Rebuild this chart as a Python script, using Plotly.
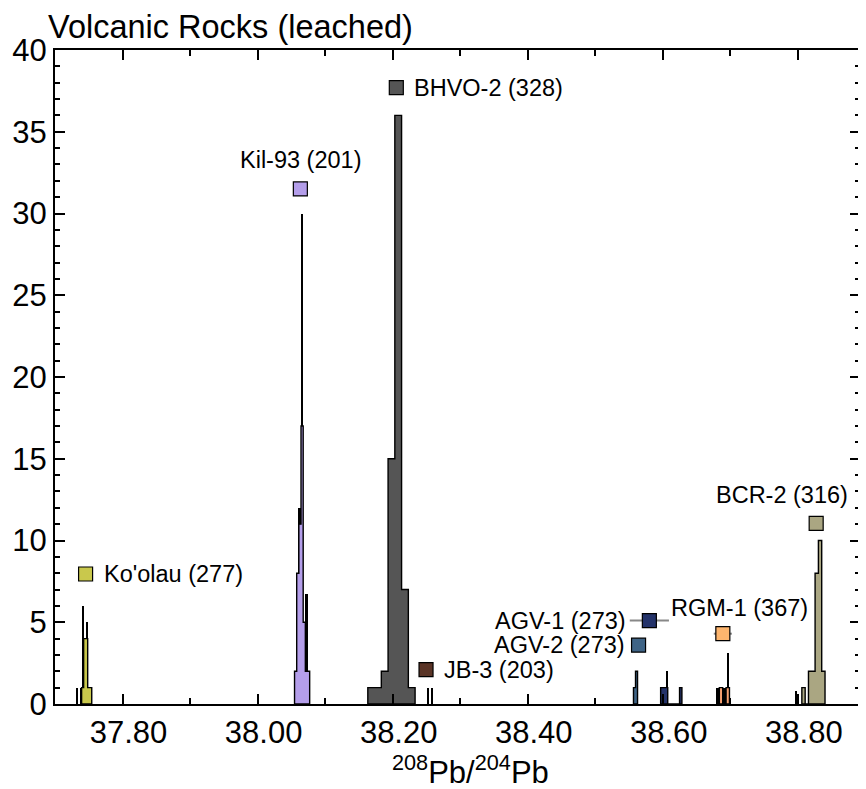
import numpy as np
import plotly.graph_objects as go

# ---------------- data ----------------
samples = ["Ko'olau", "Kil-93", "BHVO-2", "JB-3", "AGV-2", "AGV-1", "RGM-1", "BCR-2"]
n_values = [277, 201, 328, 203, 273, 273, 367, 316]
colors = ["#c9c84c", "#b49eea", "#555555", "#5a3426", "#3f6486", "#24336a", "#f6a070", "#aaa682"]
marker_colors = ["#c9c84c", "#b49eea", "#555555", "#5a3426", "#3f6486", "#24336a", "#fdb56e", "#aaa682"]

# histogram bins (leached)
bin_start = [37.7394, 38.0547, 38.1632, None, 38.5566, 38.5968, 38.6837, 38.8059]
bin_width = [0.003, 0.0032, 0.01, None, 0.003, 0.0035, 0.005, 0.0049]
counts_koolau = [1, 4, 4, 1, 1]
counts_kil93 = [2, 8, 11, 17, 5, 2, 2]
counts_bhvo2 = [1, 1, 2, 15, 36, 7, 1]
counts_jb3 = []
counts_agv2 = [1, 2]
counts_agv1 = [1, 1, 1, 0, 0, 0, 0, 0, 1]
counts_rgm1 = [1, 0, 1]
counts_bcr2 = [1, 0, 2, 2, 8, 10, 2]
counts = [counts_koolau, counts_kil93, counts_bhvo2, counts_jb3,
          counts_agv2, counts_agv1, counts_rgm1, counts_bcr2]

# mean values (markers) and 2SD
mean_x = [37.7453, 38.0633, 38.2054, 38.2494, 38.5641, 38.5801, 38.6889, 38.8271]
mean_y = [7.95, 31.5, 37.7, 2.1, 3.6, 5.1, 4.3, 11.05]
err_x = [0, 0, 0, 0, 0, 0.029, 0.0134, 0]

# black bars (other measurements)
black_x = [37.7331, 37.7382, 37.7421, 37.7472, 38.0616, 38.0658, 38.0723,
           38.2523, 38.2582, 38.6061, 38.6813, 38.6906, 38.6964, 38.798]
black_h = [1, 1, 6, 5, 12, 30, 6.7, 1, 1, 2, 1, 1, 3.1, 0.8]
black_w = [0.002, 0.002, 0.0025, 0.002, 0.0045, 0.003, 0.004,
           0.0025, 0.0025, 0.003, 0.0048, 0.0058, 0.002, 0.002]

x_ticks = [37.80, 38.00, 38.20, 38.40, 38.60, 38.80]
y_ticks = [0, 5, 10, 15, 20, 25, 30, 35, 40]

# label placement (pixel offsets from marker): (xanchor, xshift, yshift)
label_pos = [("left", 16, 0), ("center", 0, 29), ("left", 16, 0), ("left", 16, 0),
             ("right", -12, 0), ("right", -21, 0), ("left", -54, 26), ("center", -34, 28)]

FONT = "Liberation Sans, Arial, Helvetica, sans-serif"

fig = go.Figure()

# black bars behind
fig.add_trace(go.Bar(x=black_x, y=black_h, width=black_w,
                     marker=dict(color="black", line=dict(width=0)),
                     showlegend=False, hoverinfo="skip"))

# coloured step histograms
for i, c in enumerate(counts):
    if not c:
        continue
    edges = bin_start[i] + bin_width[i] * np.arange(len(c) + 1)
    xs = [edges[0]]
    ys = [0]
    for k, h in enumerate(c):
        xs += [edges[k], edges[k + 1]]
        ys += [h, h]
    xs += [edges[-1], edges[0]]
    ys += [0, 0]
    fig.add_trace(go.Scatter(x=xs, y=ys, mode="lines", fill="toself",
                             fillcolor=colors[i], line=dict(color="black", width=1.4),
                             showlegend=False, hoverinfo="skip"))

# markers
for i in range(len(samples)):
    ex = None
    if err_x[i] > 0:
        ex = dict(type="data", array=[err_x[i]], color="#888888", thickness=2, width=0)
    fig.add_trace(go.Scatter(x=[mean_x[i]], y=[mean_y[i]], mode="markers",
                             marker=dict(symbol="square", size=14, color=marker_colors[i],
                                         line=dict(color="black", width=1.2)),
                             error_x=ex, showlegend=False, hoverinfo="skip"))
    xa, xs_, ys_ = label_pos[i]
    fig.add_annotation(x=mean_x[i], y=mean_y[i], xref="x", yref="y",
                       text=f"{samples[i]} ({n_values[i]})", showarrow=False,
                       xanchor=xa, yanchor="middle", xshift=xs_, yshift=ys_,
                       font=dict(family=FONT, size=23.5, color="black"))

# axis title
fig.add_annotation(x=0.5166, y=-0.101, xref="paper", yref="paper",
                   text="<sup>208</sup>Pb/<sup>204</sup>Pb", showarrow=False,
                   xanchor="center", yanchor="middle",
                   font=dict(family=FONT, size=31, color="black"))

# page body has an 8px margin: size the figure so the plot lands where the reference has it
fig.update_layout(
    width=858, height=781,
    margin=dict(l=41, r=4, t=42, b=85),
    paper_bgcolor="white", plot_bgcolor="white",
    bargap=0, barmode="overlay",
    font=dict(family=FONT, color="black"),
    title=dict(text="Volcanic Rocks (leached)", x=40 / 858, xref="container", xanchor="left",
               y=1 - 19 / 781, yanchor="middle",
               font=dict(family=FONT, size=32.5, color="black")),
)
fig.update_xaxes(range=[37.70, 38.892], tickmode="array", tickvals=x_ticks,
                 ticktext=[f"{v:.2f}" for v in x_ticks],
                 ticks="inside", ticklen=10, tickwidth=2, tickcolor="black",
                 ticklabelshift=6,
                 minor=dict(dtick=0.1, tick0=37.7, ticks="inside", ticklen=6, tickwidth=2,
                            tickcolor="black", showgrid=False),
                 showline=True, linecolor="black", linewidth=2, mirror="allticks",
                 showgrid=False, zeroline=False,
                 tickfont=dict(family=FONT, size=31, color="black"))
fig.update_yaxes(range=[0, 40], tickmode="array", tickvals=y_ticks,
                 ticks="inside", ticklen=10, tickwidth=2, tickcolor="black",
                 minor=dict(dtick=1, tick0=0, ticks="inside", ticklen=5, tickwidth=2,
                            tickcolor="black", showgrid=False),
                 showline=True, linecolor="black", linewidth=2, mirror="allticks",
                 showgrid=False, zeroline=False,
                 tickfont=dict(family=FONT, size=31, color="black"))

fig.write_html("out.html")
